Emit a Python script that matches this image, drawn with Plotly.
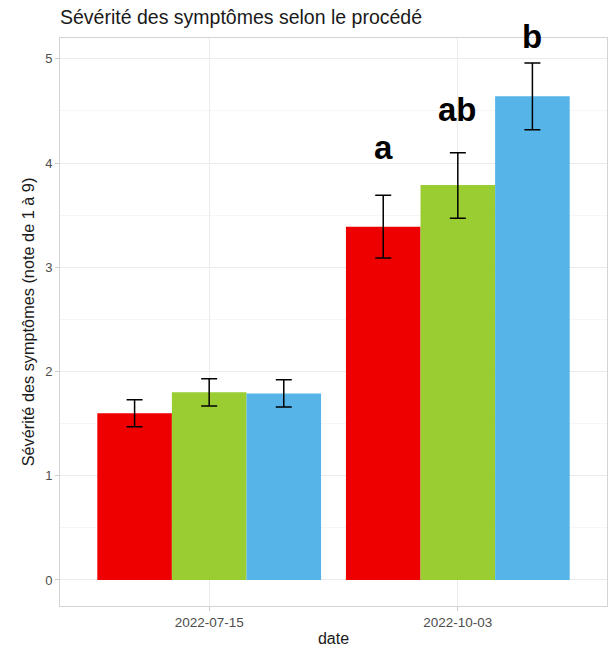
import plotly.graph_objects as go

dates = ["2022-07-15", "2022-10-03"]
series_names = ["Procédé 1", "Procédé 2", "Procédé 3"]
means = [[1.60, 3.39], [1.80, 3.79], [1.79, 4.64]]
err_low = [[1.47, 3.09], [1.67, 3.47], [1.66, 4.32]]
err_high = [[1.73, 3.69], [1.93, 4.10], [1.92, 4.96]]
colors = ["#EE0000", "#9ACD32", "#56B4E9"]
letters = ["a", "ab", "b"]
letter_y = [4.15, 4.51, 5.21]
title = "Sévérité des symptômes selon le procédé"
ytitle = "Sévérité des symptômes (note de 1 à 9)"
xtitle = "date"

YMIN, YMAX = -0.25, 5.2

fig = go.Figure()
for i in range(3):
    fig.add_trace(go.Bar(
        x=dates, y=means[i], name=series_names[i],
        marker=dict(color=colors[i], line=dict(width=0)),
        error_y=dict(type="data", symmetric=False,
                     array=[h - m for h, m in zip(err_high[i], means[i])],
                     arrayminus=[m - l for l, m in zip(err_low[i], means[i])],
                     color="black", thickness=1.5, width=8),
        showlegend=False,
    ))

offsets = [-0.3, 0.0, 0.3]
for i in range(3):
    fig.add_annotation(x=1 + offsets[i], y=(letter_y[i] - YMIN) / (YMAX - YMIN),
                       text="<b>%s</b>" % letters[i],
                       showarrow=False, xref="x", yref="paper",
                       font=dict(size=33, color="black", family="Liberation Sans"),
                       yanchor="middle")

fig.update_layout(
    width=609, height=647,
    margin=dict(l=60, r=2, t=38, b=41),
    paper_bgcolor="white", plot_bgcolor="white",
    barmode="group", bargap=0.1, bargroupgap=0,
    font=dict(family="Liberation Sans", color="#4d4d4d"),
    title=dict(text=title, x=60/609, xanchor="left", y=1 - 17/647, yanchor="middle",
               font=dict(size=19.5, color="#1a1a1a")),
)
fig.update_xaxes(type="category", range=[-0.6, 1.6],
                 showgrid=True, gridcolor="#ebebeb", gridwidth=1,
                 ticks="outside", ticklen=4, tickcolor="#cccccc",
                 tickfont=dict(size=13.5, color="#4d4d4d"),
                 showline=True, linecolor="#d4d4d4", mirror=True, linewidth=1,
                 title=dict(text=xtitle, font=dict(size=16, color="#1a1a1a"), standoff=5))
fig.update_yaxes(range=[YMIN, YMAX], dtick=1, tick0=0,
                 showgrid=True, gridcolor="#ebebeb", gridwidth=1,
                 minor=dict(dtick=0.5, showgrid=True, gridcolor="#f6f6f6", ticks=""),
                 ticks="outside", ticklen=4, tickcolor="#cccccc",
                 tickfont=dict(size=13, color="#4d4d4d"),
                 showline=True, linecolor="#d4d4d4", mirror=True, linewidth=1,
                 zeroline=False,
                 title=dict(text=ytitle, font=dict(size=16.3, color="#1a1a1a"), standoff=6))

fig.write_html("out.html")
